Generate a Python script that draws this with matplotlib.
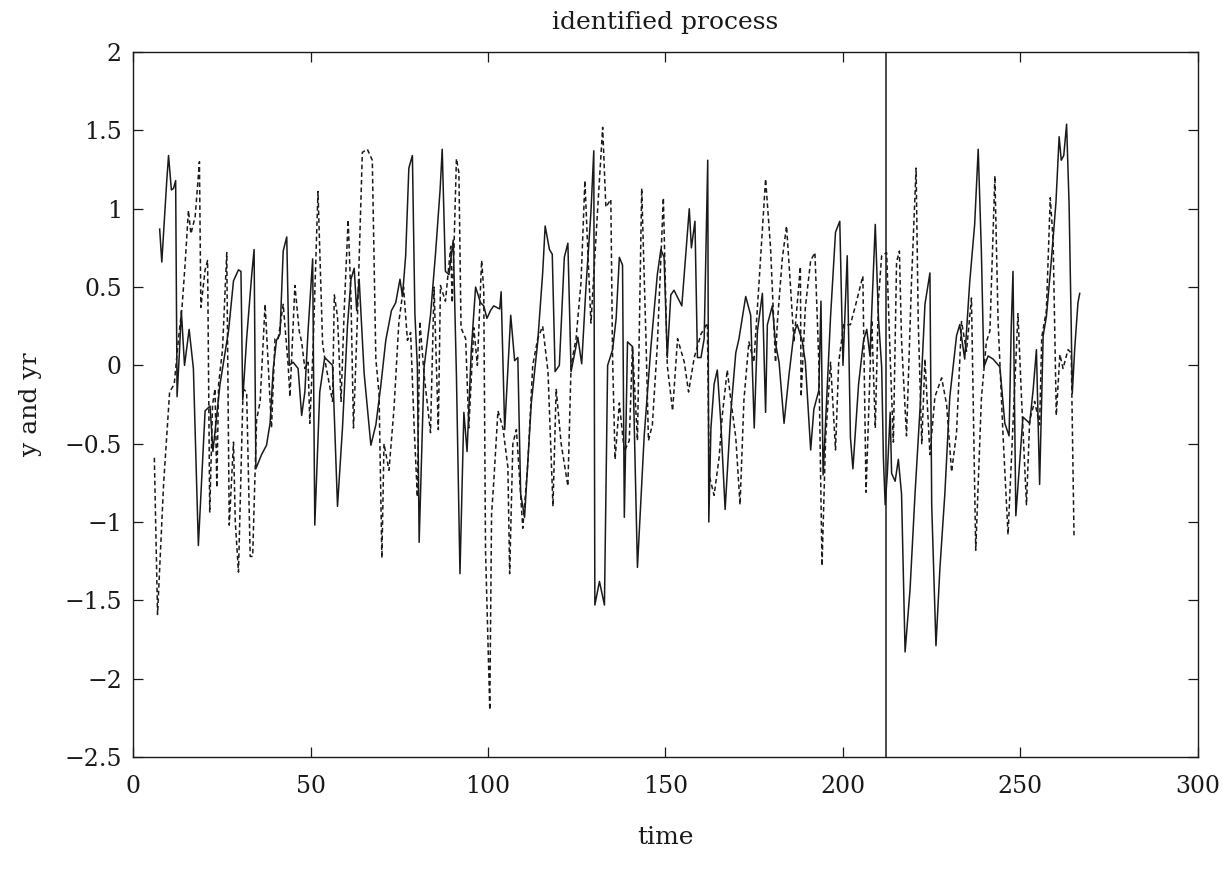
import matplotlib
matplotlib.use("Agg")
import matplotlib.pyplot as plt
from matplotlib.ticker import FuncFormatter

# solid line (y)
t_y = [7.5, 8.1, 9.5, 10.0, 10.8, 11.4, 12.0, 12.4, 13.1, 13.6, 14.5, 15.8, 17.0, 18.4, 20.3,
       21.7, 22.5, 24.5, 26.9, 28.3, 29.7, 30.4, 30.9, 32.0, 33.4, 34.1, 34.6, 36.2, 37.6, 38.6,
       39.5, 40.4, 41.4, 42.3, 43.3, 44.0, 45.1, 46.5, 47.5, 48.4, 49.3, 50.6, 51.2, 52.6, 54.0,
       56.2, 57.6, 59.0, 60.4, 61.4, 62.3, 63.0, 63.7, 65.1, 67.0, 68.4, 69.8, 71.2, 72.8, 74.0,
       75.2, 75.9, 76.8, 77.7, 78.7, 79.4, 80.1, 80.6, 82.0, 83.8, 85.2, 86.5, 87.1, 88.0, 89.0,
       90.2, 91.1, 92.1, 93.2, 94.1, 95.3, 96.5, 97.9, 98.8, 99.7, 100.7, 101.6, 103.3, 103.7, 104.7,
       106.4, 107.5, 108.4, 109.2, 110.3, 112.2, 114.0, 115.4, 116.1, 117.3, 118.1, 118.9, 120.1, 121.5, 122.5,
       123.4, 125.3, 126.4, 127.6, 129.0, 129.8, 130.1, 131.4, 132.8, 133.7, 135.1, 136.1, 137.0, 137.9, 138.4,
       139.3, 140.7, 142.1, 144.0, 145.9, 147.7, 148.7, 149.6, 150.5, 151.5, 152.4, 154.6, 156.7, 157.3, 158.3,
       159.0, 160.0, 160.9, 161.9, 162.2, 162.8, 163.7, 164.6, 165.6, 166.8, 168.4, 169.8, 170.7, 172.6, 174.0,
       175.0, 175.9, 177.3, 178.2, 178.7, 180.1, 181.0, 182.0, 183.4, 184.8, 186.2, 187.1, 188.5, 189.4, 190.9,
       191.8, 193.2, 193.8, 194.4, 196.5, 197.9, 199.1, 200.0, 201.2, 202.1, 202.8, 204.4, 205.8, 206.7, 207.6,
       209.1, 210.0, 210.9, 211.4, 211.9, 212.5, 213.3, 213.7, 214.7, 215.6, 216.5, 217.5, 218.9, 220.3, 221.7,
       223.1, 224.5, 225.0, 226.2, 227.3, 228.7, 230.1, 232.0, 232.9, 234.3, 235.7, 237.1, 238.1, 239.0, 239.7,
       240.9, 242.3, 244.2, 245.6, 246.8, 247.4, 247.9, 248.7, 250.7, 252.6, 253.6, 254.5, 255.4, 256.4, 257.3,
       258.7, 260.0, 260.9, 261.5, 262.2, 263.0, 263.7, 264.3, 264.6, 265.3, 266.2, 266.7]
y = [0.87, 0.66, 1.18, 1.34, 1.12, 1.13, 1.18, -0.2, 0.1, 0.35, 0.0, 0.23, -0.02, -1.15, -0.29,
     -0.26, -0.55, -0.12, 0.22, 0.54, 0.61, 0.6, -0.22, 0.17, 0.57, 0.74, -0.66, -0.57, -0.51, -0.37,
     -0.02, 0.16, 0.2, 0.73, 0.82, 0.0, 0.02, -0.02, -0.32, -0.17, 0.22, 0.68, -1.02, -0.17, 0.05,
     0.0, -0.9, -0.4, 0.25, 0.55, 0.62, 0.35, 0.55, -0.05, -0.51, -0.38, -0.13, 0.16, 0.35, 0.4,
     0.55, 0.44, 0.7, 1.26, 1.34, 0.33, -0.01, -1.13, -0.01, 0.32, 0.71, 1.12, 1.38, 0.6, 0.58,
     0.8, -0.06, -1.33, -0.3, -0.55, 0.1, 0.5, 0.4, 0.38, 0.3, 0.35, 0.38, 0.36, 0.47, -0.41,
     0.32, 0.03, 0.05, -0.82, -0.97, -0.24, 0.15, 0.59, 0.89, 0.74, 0.71, -0.04, 0.0, 0.69, 0.78,
     -0.04, 0.18, 0.01, 0.5, 0.98, 1.37, -1.53, -1.38, -1.53, 0.0, 0.1, 0.3, 0.69, 0.64, -0.97,
     0.15, 0.12, -1.29, -0.45, 0.12, 0.58, 0.74, 0.69, 0.05, 0.45, 0.48, 0.38, 1.0, 0.75, 0.92,
     0.05, 0.05, 0.17, 1.31, -1.0, -0.4, -0.12, -0.03, -0.37, -0.92, -0.3, 0.08, 0.17, 0.44, 0.32,
     -0.4, 0.22, 0.46, -0.3, 0.26, 0.38, 0.14, 0.02, -0.37, -0.06, 0.21, 0.26, 0.16, 0.02, -0.54,
     -0.28, -0.16, 0.41, -0.7, 0.31, 0.85, 0.92, 0.0, 0.7, -0.46, -0.66, -0.12, 0.16, 0.23, 0.06,
     0.9, 0.3, -0.01, -0.6, -0.89, -0.69, -0.3, -0.69, -0.74, -0.6, -0.82, -1.83, -1.43, -0.82, -0.28,
     0.39, 0.59, -0.89, -1.79, -1.3, -0.82, -0.2, 0.19, 0.26, 0.04, 0.53, 0.9, 1.38, 0.72, -0.01,
     0.06, 0.04, -0.01, -0.37, -0.45, 0.24, 0.6, -0.96, -0.33, -0.37, -0.15, 0.1, -0.76, 0.19, 0.31,
     0.67, 1.04, 1.46, 1.31, 1.34, 1.54, 1.03, 0.26, -0.18, 0.11, 0.4, 0.46]

# dashed line (yr)
t_yr = [6.0, 6.9, 8.6, 10.3, 11.6, 12.8, 13.8, 14.7, 15.6, 16.3, 17.5, 18.7, 19.1, 20.3, 21.0,
        21.6, 22.4, 23.1, 23.6, 24.1, 25.2, 26.4, 27.1, 28.3, 28.8, 29.7, 31.0, 32.0, 33.0, 33.7,
        34.8, 35.8, 37.2, 38.1, 39.0, 40.0, 40.9, 42.3, 43.7, 44.2, 45.6, 46.8, 47.5, 48.4, 49.3,
        49.8, 50.7, 52.1, 53.4, 54.3, 56.2, 56.7, 57.6, 58.6, 59.5, 60.6, 61.4, 62.1, 63.2, 64.6,
        66.0, 67.4, 68.4, 69.3, 70.1, 70.7, 72.1, 73.5, 74.9, 76.2, 77.3, 78.2, 79.2, 80.1, 80.8,
        82.0, 83.8, 84.8, 86.0, 86.6, 88.0, 89.5, 89.9, 90.4, 91.1, 91.8, 92.4, 93.7, 94.6, 96.0,
        97.0, 98.2, 98.8, 99.3, 100.5, 101.0, 101.6, 102.8, 104.2, 105.6, 106.1, 107.0, 108.0, 109.8, 111.2,
        112.6, 114.0, 115.4, 116.9, 118.3, 119.2, 120.6, 122.5, 123.4, 124.8, 126.2, 127.3, 128.1, 129.0, 130.9,
        132.3, 133.2, 134.6, 135.1, 135.8, 137.0, 138.4, 139.8, 140.7, 142.1, 143.3, 144.5, 145.2, 146.3, 147.7,
        149.4, 150.5, 152.0, 153.4, 155.3, 156.5, 158.1, 160.0, 161.8, 162.3, 163.7, 165.1, 166.0, 167.4, 168.4,
        169.8, 171.0, 172.1, 173.5, 174.9, 176.3, 178.2, 179.6, 181.0, 181.5, 182.9, 184.1, 185.2, 186.2, 188.0,
        188.2, 189.4, 190.9, 192.1, 193.2, 194.1, 195.1, 196.5, 197.9, 198.8, 200.2, 202.1, 203.5, 205.6, 206.5,
        208.1, 209.1, 210.0, 210.9, 212.3, 213.3, 214.2, 215.1, 215.9, 216.5, 217.9, 219.3, 220.6, 221.2, 222.2,
        223.1, 224.5, 225.9, 227.8, 229.2, 230.6, 232.0, 233.4, 234.8, 236.2, 237.4, 239.0, 240.4, 241.4, 242.8,
        243.7, 245.1, 246.5, 247.9, 249.3, 250.3, 251.7, 252.6, 254.0, 255.4, 256.0, 256.9, 257.3, 258.4, 259.2,
        260.1, 261.1, 262.0, 263.4, 264.3, 265.1]
yr = [-0.59, -1.59, -0.76, -0.17, -0.12, 0.17, 0.37, 0.66, 0.99, 0.84, 0.95, 1.3, 0.37, 0.61, 0.67,
      -0.94, -0.25, -0.15, -0.78, -0.12, 0.1, 0.72, -1.02, -0.49, -1.0, -1.32, -0.15, -0.17, -1.22, -1.22,
      -0.35, -0.23, 0.39, 0.0, -0.4, 0.17, 0.17, 0.39, 0.0, -0.2, 0.51, 0.22, 0.15, -0.02, 0.02,
      -0.37, 0.1, 1.11, 0.14, 0.0, -0.23, 0.45, 0.31, -0.23, 0.36, 0.93, 0.42, -0.4, 0.3, 1.36,
      1.38, 1.31, 0.04, -0.18, -1.23, -0.5, -0.67, -0.28, 0.28, 0.5, 0.16, 0.21, -0.4, -0.84, 0.28,
      -0.06, -0.43, 0.5, -0.41, 0.51, 0.41, 0.76, 0.4, 0.74, 1.32, 1.23, 0.24, 0.17, -0.4, 0.24,
      0.0, 0.67, 0.48, -1.18, -2.2, -0.95, -0.75, -0.29, -0.4, -0.65, -1.33, -0.5, -0.41, -1.04, -0.63,
      0.0, 0.17, 0.25, -0.04, -0.9, -0.15, -0.5, -0.77, 0.0, 0.17, 0.53, 1.18, 0.74, 0.27, 1.0,
      1.52, 1.01, 1.06, 0.04, -0.6, -0.24, -0.55, -0.48, 0.12, -0.48, 1.13, 0.17, -0.48, -0.38, 0.13,
      1.07, 0.0, -0.29, 0.17, 0.02, -0.17, 0.05, 0.2, 0.27, -0.7, -0.83, -0.59, -0.32, -0.03, -0.22,
      -0.46, -0.89, -0.22, 0.15, 0.02, 0.51, 1.19, 0.75, 0.02, 0.27, 0.68, 0.89, 0.51, 0.15, 0.63,
      -0.2, 0.37, 0.67, 0.72, 0.02, -1.28, -0.47, 0.02, -0.54, 0.02, 0.26, 0.26, 0.38, 0.57, -0.81,
      0.29, -0.4, 0.42, 0.7, 0.72, 0.05, -0.49, 0.66, 0.73, 0.16, -0.45, 0.53, 1.26, 0.28, -0.5,
      0.04, -0.57, -0.2, -0.08, -0.25, -0.68, -0.43, 0.28, 0.09, 0.43, -1.18, -0.21, 0.15, 0.22, 1.21,
      0.28, -0.45, -1.08, -0.37, 0.33, -0.21, -0.89, -0.35, -0.23, -0.38, 0.18, 0.3, 0.35, 1.07, 0.8,
      -0.32, 0.07, -0.02, 0.1, 0.08, -1.1]

t_split = 212

plt.rcParams['font.family'] = ['DejaVu Serif']

fig = plt.figure(figsize=(12.24, 8.69), dpi=100)
ax = fig.add_axes([0.1087, 0.129, 0.870, 0.811])

ax.plot(t_y, y, color='#1a1a1a', linewidth=1.1)
ax.plot(t_yr, yr, color='#1a1a1a', linewidth=1.1, dashes=(3, 2))
ax.axvline(t_split, color='#1a1a1a', linewidth=1.1)

ax.set_xlim(0, 300)
ax.set_ylim(-2.5, 2)
ax.set_xticks(range(0, 301, 50))
ax.set_yticks([-2.5, -2, -1.5, -1, -0.5, 0, 0.5, 1, 1.5, 2])
ax.yaxis.set_major_formatter(FuncFormatter(lambda v, p: ('%g' % v).replace('-', '\u2212')))
ax.tick_params(direction='in', length=7, width=0.9, top=True, right=True,
               labelsize=17, colors='#1a1a1a')
ax.tick_params(axis='x', pad=13)
ax.tick_params(axis='y', pad=8)
for s in ax.spines.values():
    s.set_linewidth(1.0)
    s.set_color('#1a1a1a')

ax.set_title('identified process', fontsize=18, pad=17, color='#1a1a1a')
ax.set_xlabel('time', fontsize=18, labelpad=20, color='#1a1a1a')
ax.set_ylabel('y and yr', fontsize=18, labelpad=16, color='#1a1a1a')

fig.savefig('out.png', dpi=100)
